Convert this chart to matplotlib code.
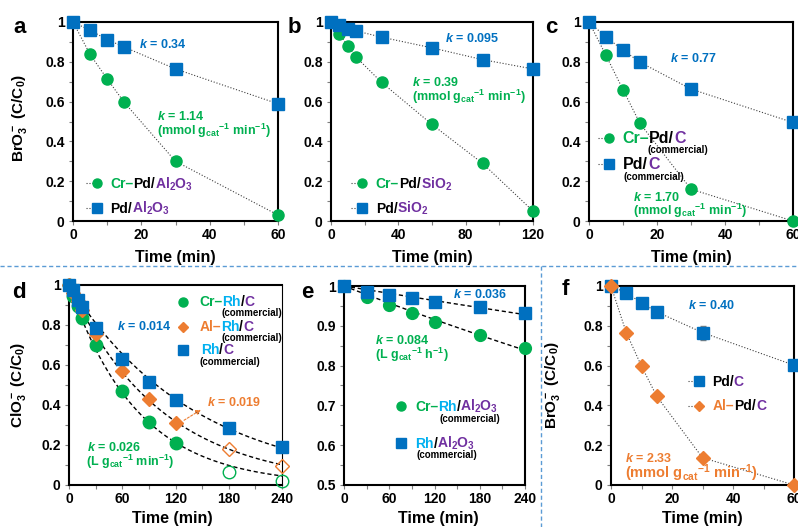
import numpy as np
import matplotlib
matplotlib.use('Agg')
import matplotlib.pyplot as plt
from matplotlib import transforms as mtransforms
from matplotlib.lines import Line2D
from matplotlib.patches import FancyArrowPatch
from matplotlib.ticker import MultipleLocator, FuncFormatter

plt.rcParams.update({
    'font.family': ['Liberation Sans', 'DejaVu Sans'],
    'font.weight': 'bold',
    'mathtext.fontset': 'custom',
    'mathtext.rm': 'Liberation Sans:bold',
    'mathtext.bf': 'Liberation Sans:bold',
    'mathtext.it': 'Liberation Sans:italic:bold',
    'mathtext.sf': 'Liberation Sans:bold',
    'mathtext.default': 'bf',
})

green = '#00B050'
blue = '#0070C0'
orange = '#ED7D31'
purple = '#7030A0'
lblue = '#00B0F0'
dot = '#404040'

# ---- data (C/C0 vs time, min) ----
# a: BrO3- on Al2O3
ta = [0, 5, 10, 15, 30, 60]
a_crpd = [1, 0.837, 0.714, 0.596, 0.30, 0.03]
a_pd = [1, 0.958, 0.912, 0.874, 0.764, 0.589]
# b: BrO3- on SiO2
tb = [0, 5, 10, 15, 30, 60, 90, 120]
b_crpd = [1, 0.941, 0.879, 0.823, 0.697, 0.485, 0.29, 0.05]
b_pd = [1, 0.983, 0.966, 0.955, 0.924, 0.870, 0.811, 0.764]
# c: BrO3- on commercial C
tc = [0, 5, 10, 15, 30, 60]
c_crpd = [1, 0.832, 0.66, 0.49, 0.16, 0.0]
c_pd = [1, 0.924, 0.859, 0.798, 0.663, 0.495]
# d: ClO3- on commercial Rh/C
td = [0, 5, 10, 15, 30, 60, 90, 120]
td_open = [180, 240]
d_crrh = [1, 0.947, 0.895, 0.837, 0.70, 0.47, 0.313, 0.208]
d_crrh_open = [0.067, 0.02]
d_alrh = [1, 0.96, 0.92, 0.875, 0.753, 0.572, 0.428, 0.312]
d_alrh_open = [0.178, 0.097]
td_rh = [0, 5, 10, 15, 30, 60, 90, 120, 180, 240]
d_rh = [1, 0.975, 0.925, 0.892, 0.787, 0.628, 0.515, 0.425, 0.283, 0.19]
# e: ClO3- on commercial Rh/Al2O3
te = [0, 30, 60, 90, 120, 180, 240]
e_crrh = [1, 0.972, 0.953, 0.932, 0.910, 0.878, 0.843]
e_rh = [1, 0.985, 0.977, 0.970, 0.960, 0.946, 0.932]
# f: BrO3- on Pd/C
tf = [0, 5, 10, 15, 30, 60]
f_pd = [1, 0.965, 0.916, 0.870, 0.766, 0.602]
f_pd_err = [0, 0.005, 0.005, 0.005, 0.035, 0.01]
f_alpd = [1, 0.766, 0.597, 0.446, 0.137, 0.0]

W, H = 798, 527
fig = plt.figure(figsize=(W / 100, H / 100), dpi=100)
PX = mtransforms.Affine2D().scale(1 / W, -1 / H).translate(0, 1) + fig.transFigure
R = fig.canvas.get_renderer()


def make_ax(l, t, r, b):
    return fig.add_axes([l / W, 1 - b / H, (r - l) / W, (b - t) / H])


def style(ax, xmax, xmaj, ymin, ymaj):
    ax.set_xlim(0, xmax)
    ax.set_ylim(ymin, 1)
    ax.xaxis.set_major_locator(MultipleLocator(xmaj))
    ax.xaxis.set_minor_locator(MultipleLocator(xmaj / 2))
    ax.yaxis.set_major_locator(MultipleLocator(ymaj))
    ax.yaxis.set_minor_locator(MultipleLocator(ymaj / 2))
    ax.yaxis.set_major_formatter(FuncFormatter(lambda v, p: f'{v:g}'))
    ax.tick_params(which='both', direction='out', color='#7f7f7f', length=3,
                   width=0.8, labelsize=10)
    ax.tick_params(axis='y', pad=3)
    ax.tick_params(axis='x', pad=2)
    for s in ax.spines.values():
        s.set_linewidth(1.5)
        s.set_color('black')


def ctext(x, y, parts, size):
    off = 0.0
    for s, c in parts:
        t = fig.text(x, y, s, color=c, fontsize=size, fontweight='bold',
                     ha='left', va='baseline',
                     transform=mtransforms.offset_copy(PX, x=off, units='dots'))
        off += t.get_window_extent(R).width


def key(x, y, marker, color, ms, line_from=None, open_=False):
    if line_from is not None:
        fig.add_artist(Line2D([line_from, x], [y, y], transform=PX, ls=':',
                              color=dot, lw=0.8))
    fig.add_artist(Line2D([x], [y], transform=PX, marker=marker, ms=ms, ls='none',
                          color=color, mec=color,
                          mfc='none' if open_ else color))


def series(ax, t, c, marker, color, ms, ls=':'):
    ax.plot(t, c, ls=ls, color=dot, lw=0.8, zorder=2, clip_on=False)
    ax.plot(t, c, ls='none', marker=marker, ms=ms, color=color, mec=color,
            zorder=3, clip_on=False)


def exp_fit(t, c, tmax):
    t = np.asarray(t, float)
    c = np.asarray(c, float)
    r = -np.sum(t * np.log(c)) / np.sum(t * t)
    tt = np.linspace(0, tmax, 200)
    return tt, np.exp(-r * tt)


def klabel(x, y, val, color, size=9):
    fig.text(x, y, r'$\mathit{k}$ = ' + val, color=color, fontsize=size,
             fontweight='bold', ha='left', va='baseline', transform=PX)


def units(x, y, s, color, size=9):
    fig.text(x, y, s, color=color, fontsize=size, fontweight='bold',
             ha='left', va='baseline', transform=PX)


mmol = r'(mmol g$_{\mathrm{cat}}$$^{-1}$ min$^{-1}$)'
Lmin = r'(L g$_{\mathrm{cat}}$$^{-1}$ min$^{-1}$)'
Lh = r'(L g$_{\mathrm{cat}}$$^{-1}$ h$^{-1}$)'
al2o3 = r'Al$_2$O$_3$'
sio2 = r'SiO$_2$'


def xlabel(cx, y):
    fig.text(cx, y, 'Time (min)', fontsize=11.5, fontweight='bold',
             ha='center', va='baseline', transform=PX)


def ylabel(x, cy, s):
    fig.text(x, cy, s, fontsize=11, fontweight='bold', rotation=90,
             ha='center', va='center', transform=PX)


def letter(x, y, s):
    fig.text(x, y, s, fontsize=16, fontweight='bold', ha='left', va='baseline',
             transform=PX)


# ---- panel a ----
ax = make_ax(73, 22, 278, 221)
style(ax, 60, 20, 0, 0.2)
series(ax, ta, a_crpd, 'o', green, 8)
series(ax, ta, a_pd, 's', blue, 8.5)
klabel(139, 48, '0.34', blue)
klabel(157, 120.5, '1.14', green)
units(157, 135, mmol, green)
key(96.7, 183.3, 'o', green, 6.5, line_from=86)
ctext(110, 188.3, [('Cr–', green), ('Pd/', 'black'), (al2o3, purple)], 10)
key(96.7, 208, 's', blue, 7.5, line_from=86)
ctext(110, 213, [('Pd/', 'black'), (al2o3, purple)], 10)
xlabel(175, 262)
ylabel(20, 118, r'BrO$_3^-$ (C/C$_0$)')
letter(13, 33, 'a')

# ---- panel b ----
ax = make_ax(331, 22, 533, 221)
style(ax, 120, 40, 0, 0.2)
series(ax, tb, b_crpd, 'o', green, 8)
series(ax, tb, b_pd, 's', blue, 8.5)
klabel(445, 42, '0.095', blue)
klabel(412, 86.5, '0.39', green)
units(412, 101, mmol, green)
key(361.7, 183, 'o', green, 6.5, line_from=351)
ctext(375.7, 188.3, [('Cr–', green), ('Pd/', 'black'), (sio2, purple)], 10)
key(361.7, 207.7, 's', blue, 7.5, line_from=351)
ctext(375.7, 213, [('Pd/', 'black'), (sio2, purple)], 10)
xlabel(432, 262)
letter(288, 33, 'b')

# ---- panel c ----
ax = make_ax(589, 22, 793, 221)
style(ax, 60, 20, 0, 0.2)
series(ax, tc, c_crpd, 'o', green, 8)
series(ax, tc, c_pd, 's', blue, 8.5)
klabel(670, 62, '0.77', blue)
klabel(633, 201, '1.70', green)
units(633, 215.5, mmol, green)
key(609, 137.7, 'o', green, 6.5, line_from=598)
ctext(622.7, 142.7, [('Cr–', green), ('Pd/', 'black'), ('C', purple)], 11.5)
ctext(647, 153, [('(commercial)', 'black')], 7)
key(609, 164.3, 's', blue, 7.5, line_from=598)
ctext(623, 169.3, [('Pd/', 'black'), ('C', purple)], 11.5)
ctext(623, 180, [('(commercial)', 'black')], 7)
xlabel(691, 262)
letter(545, 33, 'c')

# ---- panel d ----
ax = make_ax(69, 285, 282, 485)
style(ax, 240, 60, 0, 0.2)
ax.spines['right'].set_linewidth(0.8)
for t_, c_ in [(td, d_crrh), (td, d_alrh), (td_rh, d_rh)]:
    tt, cc = exp_fit(t_, c_, 240)
    ax.plot(tt, cc, ls=(0, (3, 2)), color='black', lw=1, zorder=2)
ax.plot(td, d_crrh, 'o', ms=9, color=green, zorder=3, clip_on=False)
ax.plot(td_open, d_crrh_open, 'o', ms=9, mfc='none', mec=green, mew=1, zorder=3, clip_on=False)
ax.plot(td, d_alrh, 'D', ms=7, color=orange, zorder=3, clip_on=False)
ax.plot(td_open, d_alrh_open, 'D', ms=7, mfc='none', mec=orange, mew=1, zorder=3, clip_on=False)
ax.plot(td_rh, d_rh, 's', ms=8.5, color=blue, zorder=4, clip_on=False)
klabel(117, 330, '0.014', blue)
klabel(206.7, 406, '0.019', orange)
fig.add_artist(FancyArrowPatch((181.7, 421.7), (203.3, 408.3), transform=PX,
                               arrowstyle='-|>', mutation_scale=7, color=orange,
                               lw=0.8, ls=(0, (2, 1.5))))
klabel(87, 451, '0.026', green)
units(86, 466, Lmin, green)
key(183.3, 302.3, 'o', green, 6.5)
ctext(199.3, 306, [('Cr–', green), ('Rh', lblue), ('/', 'black'), ('C', purple)], 10)
ctext(221.7, 316, [('(commercial)', 'black')], 7)
key(183.3, 326.7, 'D', orange, 5)
ctext(199.3, 330.7, [('Al–', orange), ('Rh', lblue), ('/', 'black'), ('C', purple)], 10)
ctext(221.7, 341, [('(commercial)', 'black')], 7)
key(183.3, 350, 's', blue, 7)
ctext(200.7, 354, [('Rh', lblue), ('/', 'black'), ('C', purple)], 10)
ctext(199.3, 365, [('(commercial)', 'black')], 7)
xlabel(172, 523)
ylabel(18, 385, r'ClO$_3^-$ (C/C$_0$)')
letter(12, 297.7, 'd')

# ---- panel e ----
ax = make_ax(344, 286, 525, 485)
style(ax, 240, 60, 0.5, 0.1)
for t_, c_ in [(te, e_crrh), (te, e_rh)]:
    tt, cc = exp_fit(t_, c_, 240)
    ax.plot(tt, cc, ls=(0, (3, 2)), color='black', lw=1, zorder=2)
ax.plot(te, e_crrh, 'o', ms=8.5, color=green, zorder=3, clip_on=False)
ax.plot(te, e_rh, 's', ms=8.5, color=blue, zorder=4, clip_on=False)
klabel(453, 298, '0.036', blue)
klabel(375, 343.5, '0.084', green)
units(375, 358.5, Lh, green)
key(401, 405.7, 'o', green, 6.5)
ctext(415, 411, [('Cr–', green), ('Rh', lblue), ('/', 'black'), (al2o3, purple)], 10)
ctext(439, 421.7, [('(commercial)', 'black')], 7)
key(401, 442.7, 's', blue, 7.5)
ctext(415, 447.7, [('Rh', lblue), ('/', 'black'), (al2o3, purple)], 10)
ctext(416.7, 458.3, [('(commercial)', 'black')], 7)
xlabel(438, 523)
letter(301, 297.7, 'e')

# ---- panel f ----
ax = make_ax(611, 286, 794, 485)
style(ax, 60, 20, 0, 0.2)
ax.errorbar(tf, f_pd, yerr=f_pd_err, fmt='none', ecolor='#7f7f7f', elinewidth=0.8,
            capsize=2, zorder=2)
series(ax, tf, f_pd, 's', blue, 8.5)
series(ax, tf, f_alpd, 'D', orange, 7)
klabel(688, 309, '0.40', blue)
klabel(625, 462.5, '2.33', orange)
units(625, 478, mmol, orange, size=10.5)
key(699.3, 381, 's', blue, 7.5, line_from=688)
ctext(711.7, 385.7, [('Pd/', 'black'), ('C', purple)], 10)
key(699.3, 405.7, 'D', orange, 5.5, line_from=688)
ctext(712.7, 410.3, [('Al–', orange), ('Pd/', 'black'), ('C', purple)], 10)
xlabel(702, 523)
ylabel(552, 385, r'BrO$_3^-$ (C/C$_0$)')
letter(562, 295, 'f')

# ---- separators ----
fig.add_artist(Line2D([0, W], [266, 266], transform=PX, ls=(0, (3, 2)),
                      color='#5B9BD5', lw=1))
fig.add_artist(Line2D([541, 541], [266, H], transform=PX, ls=(0, (3, 2)),
                      color='#5B9BD5', lw=1))

fig.savefig('out.png', dpi=100)
